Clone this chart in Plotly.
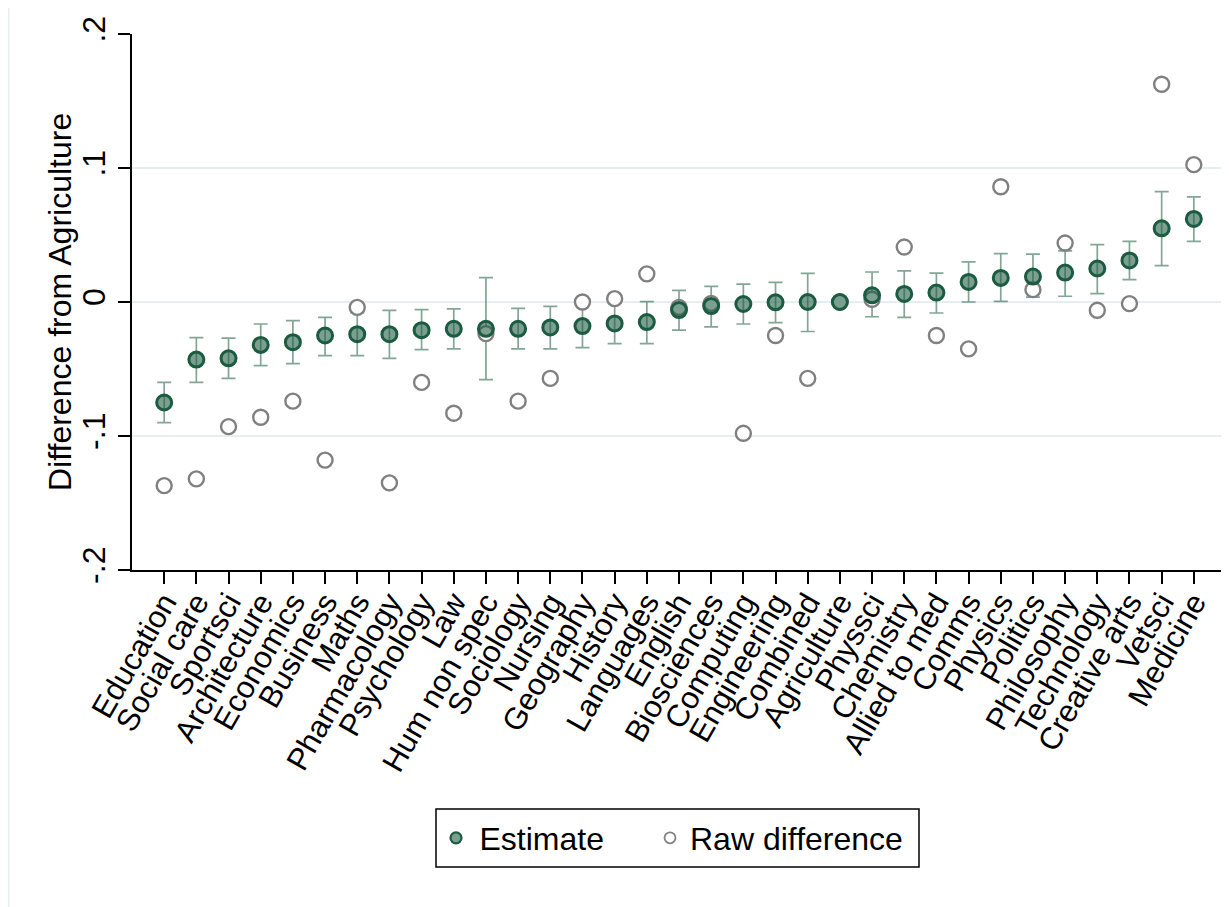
import plotly.graph_objects as go

categories = ["Education", "Social care", "Sportsci", "Architecture", "Economics", "Business",
              "Maths", "Pharmacology", "Psychology", "Law", "Hum non spec", "Sociology",
              "Nursing", "Geography", "History", "Languages", "English", "Biosciences",
              "Computing", "Engineering", "Combined", "Agriculture", "Physsci", "Chemistry",
              "Allied to med", "Comms", "Physics", "Politics", "Philosophy", "Technology",
              "Creative arts", "Vetsci", "Medicine"]

estimate = [-0.075, -0.043, -0.042, -0.032, -0.030, -0.025, -0.024, -0.024, -0.021, -0.020,
            -0.020, -0.020, -0.019, -0.018, -0.016, -0.015, -0.006, -0.003, -0.0015, -0.0002,
            0.000, 0.000, 0.005, 0.006, 0.007, 0.015, 0.018, 0.019, 0.022, 0.025,
            0.031, 0.055, 0.062]

ci_low = [-0.090, -0.060, -0.057, -0.0475, -0.046, -0.040, -0.040, -0.042, -0.0355, -0.035,
          -0.058, -0.035, -0.035, -0.034, -0.031, -0.031, -0.021, -0.0186, -0.0164, -0.0154,
          -0.022, None, -0.011, -0.0114, -0.0082, 0.000, 0.0005, 0.0037, 0.0043, 0.0063,
          0.0167, 0.0272, 0.0453]

ci_high = [-0.060, -0.0266, -0.027, -0.0164, -0.0139, -0.0114, -0.008, -0.0062, -0.0057, -0.0052,
           0.0182, -0.0047, -0.0032, -0.0024, -0.0009, 0.0003, 0.0087, 0.0117, 0.0134, 0.0147,
           0.0214, None, 0.0224, 0.0232, 0.0216, 0.0299, 0.0361, 0.0358, 0.0381, 0.0428,
           0.0453, 0.0824, 0.0784]

raw_difference = [-0.137, -0.132, -0.093, -0.086, -0.074, -0.118, -0.004, -0.135, -0.060, -0.083,
                  -0.0236, -0.074, -0.057, 0.000, 0.0025, 0.021, -0.004, -0.001, -0.098, -0.025,
                  -0.057, 0.000, 0.002, 0.041, -0.025, -0.035, 0.086, 0.0092, 0.044, -0.0062,
                  -0.0012, 0.1625, 0.1025]

y_tickvals = [-0.2, -0.1, 0, 0.1, 0.2]
y_ticktext = ["-.2", "-.1", "0", ".1", ".2"]
y_title = "Difference from Agriculture"

xpos = list(range(1, len(categories) + 1))

DARK = "#1b5b3f"
FILL = "rgba(27,91,63,0.58)"
GRAY = "#808080"
FONT = "Liberation Sans, Arial, Helvetica, sans-serif"

W, H = 1229, 907
ML, MR, MT, MB = 124, 11, 26, 345
PW = W - ML - MR
PH = H - MT - MB


def px(xf):
    return (xf - ML) / PW


def py(yf):
    return (H - MB - yf) / PH


# error bar trace (rcap)
eb_x, eb_y, eb_plus, eb_minus = [], [], [], []
for x, e, lo, hi in zip(xpos, estimate, ci_low, ci_high):
    if lo is None or hi is None:
        continue
    eb_x.append(x)
    eb_y.append(e)
    eb_plus.append(hi - e)
    eb_minus.append(e - lo)

fig = go.Figure()
fig.add_trace(go.Scatter(
    x=eb_x, y=eb_y, mode="markers",
    marker=dict(size=0.1, color="rgba(0,0,0,0)"),
    error_y=dict(type="data", symmetric=False, array=eb_plus, arrayminus=eb_minus,
                 color="rgba(27,91,63,0.55)", thickness=1.7, width=7),
    showlegend=False, hoverinfo="skip"))

fig.add_trace(go.Scatter(
    x=xpos, y=raw_difference, mode="markers", name="Raw difference",
    marker=dict(size=15, color="white", line=dict(color=GRAY, width=2.4)),
    showlegend=False))

fig.add_trace(go.Scatter(
    x=xpos, y=estimate, mode="markers", name="Estimate",
    marker=dict(size=15, color=FILL, line=dict(color=DARK, width=3)),
    showlegend=False))

# legend-only entries (smaller legend symbols, as in the reference)
fig.add_trace(go.Scatter(
    x=[None], y=[None], mode="markers", name="Estimate", legend="legend",
    marker=dict(size=11, color=FILL, line=dict(color=DARK, width=2.2))))
fig.add_trace(go.Scatter(
    x=[None], y=[None], mode="markers", name="Raw difference", legend="legend2",
    marker=dict(size=11, color="white", line=dict(color=GRAY, width=1.8))))

leg_common = dict(orientation="h", xanchor="left", yanchor="middle",
                  bgcolor="rgba(0,0,0,0)", borderwidth=0,
                  font=dict(size=32, color="black"))

fig.update_layout(
    width=W, height=H,
    margin=dict(l=ML, r=MR, t=MT, b=MB),
    paper_bgcolor="white", plot_bgcolor="white",
    font=dict(family=FONT, size=30, color="black"),
    showlegend=True,
    legend=dict(x=px(432.5 - 8), y=py(838 - 8), itemwidth=37, **leg_common),
    legend2=dict(x=px(650 - 8), y=py(838 - 8), **leg_common),
)

fig.update_xaxes(
    range=[0, 34], tickmode="array", tickvals=xpos, ticktext=categories,
    tickangle=-60, ticks="outside", ticklen=12, tickwidth=1.5, tickcolor="black",
    showline=True, linecolor="black", linewidth=1.5, showgrid=False, zeroline=False,
    tickfont=dict(size=31), automargin=False, ticklabelstandoff=-12)

fig.update_yaxes(
    range=[-0.2, 0.2], tickmode="array", tickvals=y_tickvals, ticktext=y_ticktext,
    tickangle=-90, ticks="outside", ticklen=12, tickwidth=1.5, tickcolor="black",
    showline=True, linecolor="black", linewidth=1.5,
    showgrid=True, gridcolor="#e6eef0", gridwidth=1.7, zeroline=False,
    tickfont=dict(size=32), automargin=False)

# y axis title
fig.add_annotation(text=y_title, xref="paper", yref="paper", x=px(60 - 8), y=0.5,
                   xanchor="center", yanchor="middle", textangle=-90, showarrow=False,
                   font=dict(size=32, color="black"))

# legend frame
fig.add_shape(type="rect", xref="paper", yref="paper",
              x0=px(436 - 8), x1=px(919 - 8), y0=py(867 - 8), y1=py(809 - 8),
              line=dict(color="black", width=1.5), fillcolor="rgba(0,0,0,0)", layer="above")

# faint outer border of the graph region
fig.add_shape(type="line", xref="paper", yref="paper",
              x0=px(0.8), x1=px(0.8), y0=py(H), y1=py(0),
              line=dict(color="#e8eff1", width=1.5))

fig.write_html("out.html")
